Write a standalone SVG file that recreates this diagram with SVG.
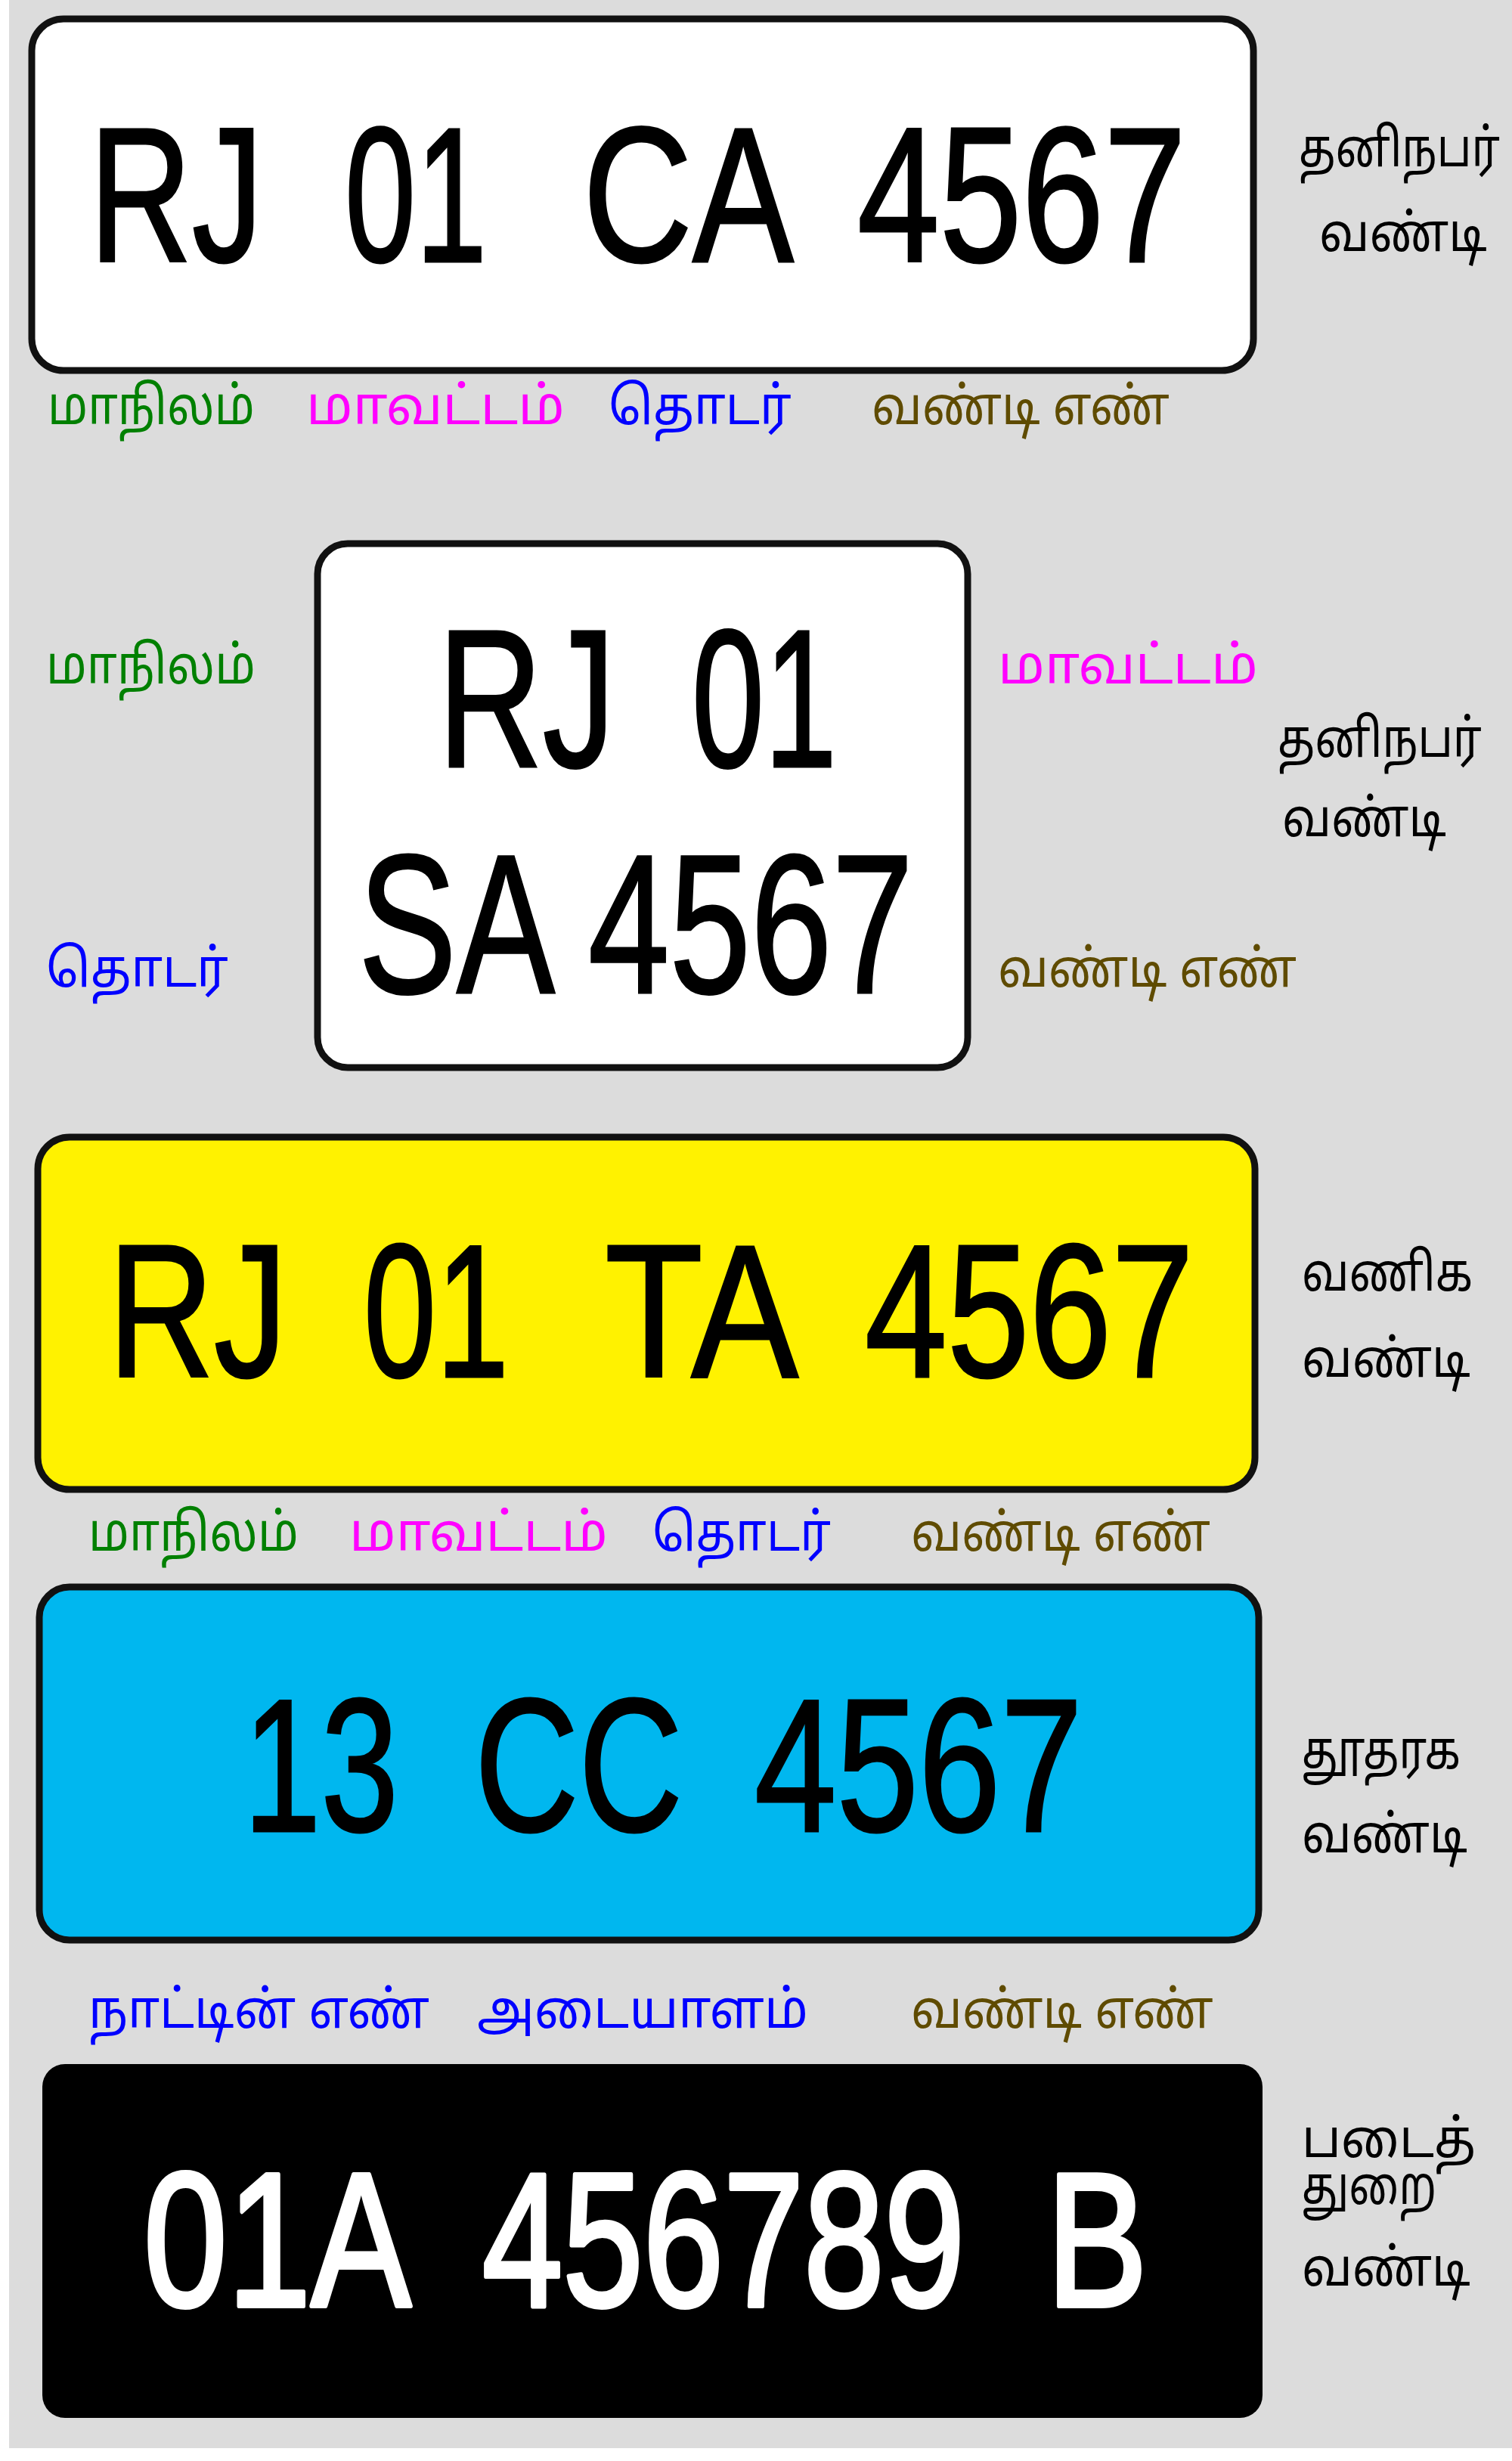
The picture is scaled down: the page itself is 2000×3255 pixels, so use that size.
<svg xmlns="http://www.w3.org/2000/svg" width="2000" height="3255" viewBox="0 0 2000 3255">
<style>
.plate{stroke:#111;stroke-width:9}
.pt{font-family:"Liberation Sans",Arial,sans-serif;fill:#000;stroke:#000;stroke-width:3}
.pw{font-family:"Liberation Sans",Arial,sans-serif;fill:#fff;stroke:#fff;stroke-width:6;stroke-linejoin:round}
.ta{font-family:"Noto Sans Tamil","Lohit Tamil","Latha","Noto Sans",sans-serif;font-size:70px}
.k{fill:#000}
.g{fill:#008000}
.m{fill:#ff00ff}
.b{fill:#0000ff}
.br{fill:#5f4b00}
</style>
<rect x="0" y="0" width="2000" height="3255" fill="#ffffff"/>
<rect x="12" y="0" width="1988" height="3238" fill="#dcdcdc"/>

<g id="plate-private-1">
<rect class="plate" x="42" y="25" width="1616" height="465" rx="42" fill="#ffffff"/>
<text class="pt" x="118" y="346" font-size="255" textLength="230" lengthAdjust="spacingAndGlyphs">RJ</text>
<text class="pt" x="456" y="346" font-size="255" textLength="188" lengthAdjust="spacingAndGlyphs">01</text>
<text class="pt" x="771" y="346" font-size="255" textLength="279" lengthAdjust="spacingAndGlyphs">CA</text>
<text class="pt" x="1134" y="346" font-size="255" textLength="435" lengthAdjust="spacingAndGlyphs">4567</text>
<text class="ta g" x="63" y="561" textLength="274" lengthAdjust="spacingAndGlyphs">மாநிலம்</text>
<text class="ta m" x="405" y="561" textLength="342" lengthAdjust="spacingAndGlyphs">மாவட்டம்</text>
<text class="ta b" x="805" y="561" textLength="242" lengthAdjust="spacingAndGlyphs">தொடர்</text>
<text class="ta br" x="1153" y="561" textLength="394" lengthAdjust="spacingAndGlyphs">வண்டி எண்</text>
<text class="ta k" x="1718" y="220" textLength="266" lengthAdjust="spacingAndGlyphs">தனிநபர்</text>
<text class="ta k" x="1745" y="332" textLength="222" lengthAdjust="spacingAndGlyphs">வண்டி</text>
</g>

<g id="plate-private-2">
<rect class="plate" x="420" y="719" width="860" height="693" rx="40" fill="#ffffff"/>
<text class="pt" x="579" y="1014" font-size="260" textLength="235" lengthAdjust="spacingAndGlyphs">RJ</text>
<text class="pt" x="915" y="1014" font-size="260" textLength="192" lengthAdjust="spacingAndGlyphs">01</text>
<text class="pt" x="474" y="1313" font-size="262" textLength="260" lengthAdjust="spacingAndGlyphs">SA</text>
<text class="pt" x="778" y="1313" font-size="262" textLength="430" lengthAdjust="spacingAndGlyphs">4567</text>
<text class="ta g" x="61" y="904" textLength="277" lengthAdjust="spacingAndGlyphs">மாநிலம்</text>
<text class="ta b" x="61" y="1305" textLength="241" lengthAdjust="spacingAndGlyphs">தொடர்</text>
<text class="ta m" x="1320" y="904" textLength="344" lengthAdjust="spacingAndGlyphs">மாவட்டம்</text>
<text class="ta br" x="1320" y="1305" textLength="395" lengthAdjust="spacingAndGlyphs">வண்டி எண்</text>
<text class="ta k" x="1690" y="1001" textLength="270" lengthAdjust="spacingAndGlyphs">தனிநபர்</text>
<text class="ta k" x="1696" y="1106" textLength="217" lengthAdjust="spacingAndGlyphs">வண்டி</text>
</g>

<g id="plate-commercial">
<rect class="plate" x="50" y="1504" width="1610" height="466" rx="42" fill="#fff200"/>
<text class="pt" x="143" y="1821" font-size="250" textLength="237" lengthAdjust="spacingAndGlyphs">RJ</text>
<text class="pt" x="481" y="1821" font-size="250" textLength="192" lengthAdjust="spacingAndGlyphs">01</text>
<text class="pt" x="800" y="1821" font-size="250" textLength="256" lengthAdjust="spacingAndGlyphs">TA</text>
<text class="pt" x="1144" y="1821" font-size="250" textLength="435" lengthAdjust="spacingAndGlyphs">4567</text>
<text class="ta g" x="117" y="2051" textLength="278" lengthAdjust="spacingAndGlyphs">மாநிலம்</text>
<text class="ta m" x="462" y="2051" textLength="342" lengthAdjust="spacingAndGlyphs">மாவட்டம்</text>
<text class="ta b" x="863" y="2051" textLength="236" lengthAdjust="spacingAndGlyphs">தொடர்</text>
<text class="ta br" x="1205" y="2051" textLength="396" lengthAdjust="spacingAndGlyphs">வண்டி எண்</text>
<text class="ta k" x="1722" y="1707" textLength="226" lengthAdjust="spacingAndGlyphs">வணிக</text>
<text class="ta k" x="1722" y="1821" textLength="223" lengthAdjust="spacingAndGlyphs">வண்டி</text>
</g>

<g id="plate-diplomatic">
<rect class="plate" x="52" y="2099" width="1613" height="467" rx="40" fill="#00b7ef"/>
<text class="pt" x="322" y="2422" font-size="250" textLength="205" lengthAdjust="spacingAndGlyphs">13</text>
<text class="pt" x="628" y="2422" font-size="250" textLength="275" lengthAdjust="spacingAndGlyphs">CC</text>
<text class="pt" x="998" y="2422" font-size="250" textLength="434" lengthAdjust="spacingAndGlyphs">4567</text>
<text class="ta b" x="117" y="2682" textLength="451" lengthAdjust="spacingAndGlyphs">நாட்டின் எண்</text>
<text class="ta b" x="631" y="2682" textLength="438" lengthAdjust="spacingAndGlyphs">அடையாளம்</text>
<text class="ta br" x="1205" y="2682" textLength="400" lengthAdjust="spacingAndGlyphs">வண்டி எண்</text>
<text class="ta k" x="1722" y="2339" textLength="210" lengthAdjust="spacingAndGlyphs">தூதரக</text>
<text class="ta k" x="1722" y="2450" textLength="219" lengthAdjust="spacingAndGlyphs">வண்டி</text>
</g>

<g id="plate-military">
<rect x="56" y="2730" width="1614" height="468" rx="30" fill="#000000"/>
<text class="pw" x="190" y="3050" font-size="252" textLength="354" lengthAdjust="spacingAndGlyphs">01A</text>
<text class="pw" x="638" y="3050" font-size="252" textLength="638" lengthAdjust="spacingAndGlyphs">456789</text>
<text class="pw" x="1384" y="3050" font-size="252" textLength="134" lengthAdjust="spacingAndGlyphs">B</text>
<text class="ta k" x="1722" y="2853" textLength="230" lengthAdjust="spacingAndGlyphs">படைத்</text>
<text class="ta k" x="1722" y="2915" textLength="178" lengthAdjust="spacingAndGlyphs">துறை</text>
<text class="ta k" x="1722" y="3023" textLength="223" lengthAdjust="spacingAndGlyphs">வண்டி</text>
</g>
</svg>
